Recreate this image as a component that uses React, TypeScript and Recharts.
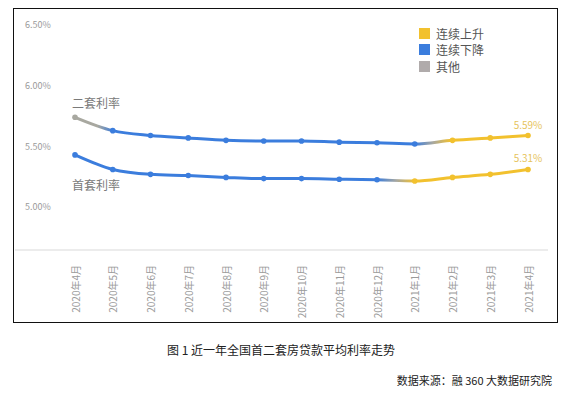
import React from 'react';
import { LineChart, Line, XAxis, YAxis, LabelList, ReferenceLine } from 'recharts';

const months = [
  '2020年4月', '2020年5月', '2020年6月', '2020年7月', '2020年8月', '2020年9月', '2020年10月',
  '2020年11月', '2020年12月', '2021年1月', '2021年2月', '2021年3月', '2021年4月',
];
const secondRate = [5.74, 5.63, 5.59, 5.57, 5.55, 5.545, 5.545, 5.535, 5.53, 5.52, 5.55, 5.57, 5.59];
const firstRate = [5.43, 5.31, 5.27, 5.26, 5.245, 5.235, 5.235, 5.23, 5.225, 5.215, 5.245, 5.27, 5.31];
const yTicks = [5.0, 5.5, 6.0, 6.5];
const legendItems = [
  { name: '连续上升', color: '#f2c12e' },
  { name: '连续下降', color: '#3b7ddd' },
  { name: '其他', color: '#b0abab' },
];

const BLUE = '#3b7ddd';
const YELLOW = '#f2c12e';
const GRAY = '#a8a8a0';
const FONT = '"Noto Sans CJK SC", "DejaVu Sans", sans-serif';

const data = months.map((m, i) => ({ month: m, second: secondRate[i], first: firstRate[i] }));

// dot colour by index, matching the segment colouring
const secondDotColor = (i: number) => (i === 0 ? GRAY : i >= 10 ? YELLOW : BLUE);
const firstDotColor = (i: number) => (i >= 9 ? YELLOW : BLUE);

const makeDot = (colorFn: (i: number) => string) => (props: any) => {
  const { cx, cy, index } = props;
  return <circle key={index} cx={cx} cy={cy} r={2.8} fill={colorFn(index)} stroke="none" />;
};

const XTick = (props: any) => {
  const { x, y, payload } = props;
  return (
    <text
      x={x}
      y={y + 7}
      transform={`rotate(-90, ${x}, ${y + 7})`}
      textAnchor="end"
      dominantBaseline="central"
      fontSize={10}
      fill="#9a9a9a"
      fontFamily={FONT}
    >
      {payload.value}
    </text>
  );
};

const makeEndLabel = (name: string, nameDy: number, valueDy: number) => (props: any) => {
  const { x, y, index, value } = props;
  if (index === 0) {
    return (
      <text x={x - 3} y={y + nameDy} fontSize={12} fill="#7a7a7a" fontFamily={FONT} dominantBaseline="central">
        {name}
      </text>
    );
  }
  if (index === months.length - 1) {
    return (
      <text x={x} y={y + valueDy} fontSize={10} fill="#e6c35c" textAnchor="middle" fontFamily={FONT} dominantBaseline="central">
        {value.toFixed(2)}%
      </text>
    );
  }
  return null;
};

export default function App() {
  return (
    <div style={{ position: 'absolute', left: 0, top: 0, width: 571, height: 395, background: '#fff' }}>
      <div
        style={{
          position: 'absolute', left: 13, top: 8, width: 545, height: 315,
          border: '1.5px solid #111', boxSizing: 'border-box',
        }}
      />
      <LineChart
        width={571}
        height={395}
        data={data}
        margin={{ top: 25, right: 23, left: 15, bottom: 85 }}
        style={{ position: 'absolute', left: 0, top: 0 }}
      >
        <defs>
          <linearGradient id="g2" x1="0" y1="0" x2="1" y2="0">
            <stop offset="0" stopColor={GRAY} />
            <stop offset="0.05" stopColor={GRAY} />
            <stop offset="0.085" stopColor={BLUE} />
            <stop offset="0.75" stopColor={BLUE} />
            <stop offset="0.79" stopColor={GRAY} />
            <stop offset="0.83" stopColor={YELLOW} />
            <stop offset="1" stopColor={YELLOW} />
          </linearGradient>
          <linearGradient id="g1" x1="0" y1="0" x2="1" y2="0">
            <stop offset="0" stopColor={BLUE} />
            <stop offset="0.667" stopColor={BLUE} />
            <stop offset="0.71" stopColor={GRAY} />
            <stop offset="0.75" stopColor={YELLOW} />
            <stop offset="1" stopColor={YELLOW} />
          </linearGradient>
        </defs>
        <XAxis
          dataKey="month"
          interval={0}
          height={60}
          padding={{ left: 60, right: 20 }}
          axisLine={{ stroke: '#d9d9d9' }}
          tickLine={false}
          tick={<XTick />}
        />
        <YAxis domain={[4.647, 6.5]} ticks={yTicks} hide />
        {yTicks.map((t) => (
          <ReferenceLine
            key={t}
            y={t}
            stroke="none"
            label={{
              value: `${t.toFixed(2)}%`,
              position: 'insideLeft',
              offset: 10,
              fontSize: 9,
              fill: '#9a9a9a',
              fontFamily: FONT,
            }}
          />
        ))}
        <Line
          dataKey="second"
          type="monotone"
          stroke="url(#g2)"
          strokeWidth={3}
          dot={makeDot(secondDotColor)}
          activeDot={false}
          isAnimationActive={false}
        >
          <LabelList dataKey="second" content={makeEndLabel('二套利率', -15, -11)} />
        </Line>
        <Line
          dataKey="first"
          type="monotone"
          stroke="url(#g1)"
          strokeWidth={3}
          dot={makeDot(firstDotColor)}
          activeDot={false}
          isAnimationActive={false}
        >
          <LabelList dataKey="first" content={makeEndLabel('首套利率', 30, -12)} />
        </Line>
      </LineChart>
      <div style={{ position: 'absolute', left: 419, top: 25, fontFamily: FONT, fontSize: 12, color: '#555' }}>
        {legendItems.map((it) => (
          <div key={it.name} style={{ display: 'flex', alignItems: 'center', height: 16.5 }}>
            <span style={{ width: 11, height: 11, background: it.color, display: 'inline-block', marginRight: 6 }} />
            <span>{it.name}</span>
          </div>
        ))}
      </div>
      <div style={{ position: 'absolute', left: 167, top: 341, fontFamily: FONT, fontSize: 12, color: '#222', whiteSpace: 'nowrap' }}>
        图 1 近一年全国首二套房贷款平均利率走势
      </div>
      <div style={{ position: 'absolute', right: 19, top: 372, fontFamily: FONT, fontSize: 11, color: '#222', whiteSpace: 'nowrap' }}>
        数据来源：融 360 大数据研究院
      </div>
    </div>
  );
}
